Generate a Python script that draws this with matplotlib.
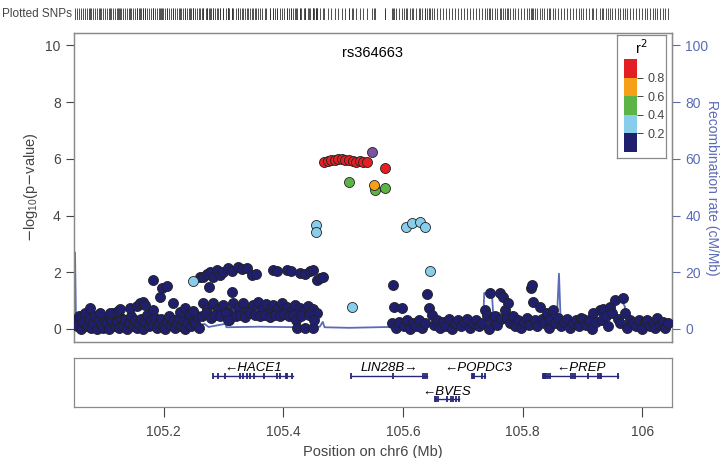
import numpy as np
import matplotlib
matplotlib.use("Agg")
import matplotlib.pyplot as plt
from matplotlib.colors import ListedColormap, BoundaryNorm
import matplotlib.colorbar as mcolorbar

plt.rcParams['font.family'] = ['Liberation Sans', 'DejaVu Sans']

# ---- association results (position Mb, -log10 p) grouped by LD r2 bin ----
ld0_left = [
    (105.052, 0.30), (105.055, 0.10), (105.058, 0.45), (105.062, 0.00), (105.065, 0.25),
    (105.068, 0.55), (105.072, 0.10), (105.075, 0.35), (105.078, 0.05), (105.082, 0.20),
    (105.085, 0.45), (105.088, 0.00), (105.092, 0.30), (105.095, 0.15), (105.098, 0.05),
    (105.102, 0.40), (105.105, 0.20), (105.109, 0.00), (105.112, 0.30), (105.115, 0.55),
    (105.119, 0.10), (105.122, 0.25), (105.125, 0.05), (105.129, 0.40), (105.132, 0.15),
    (105.135, 0.30), (105.139, 0.00), (105.142, 0.20), (105.145, 0.45), (105.149, 0.10),
    (105.152, 0.30), (105.155, 0.05), (105.159, 0.20), (105.162, 0.35), (105.165, 0.00),
    (105.169, 0.25), (105.172, 0.50), (105.175, 0.10), (105.179, 0.30), (105.182, 0.15),
    (105.185, 0.40), (105.189, 0.05), (105.192, 0.20), (105.195, 0.35), (105.199, 0.10),
    (105.202, 0.00), (105.205, 0.25), (105.209, 0.45), (105.212, 0.15), (105.216, 0.30),
    (105.219, 0.05), (105.222, 0.20), (105.226, 0.40), (105.229, 0.10), (105.232, 0.30),
    (105.236, 0.00), (105.239, 0.20), (105.242, 0.50), (105.246, 0.10), (105.249, 0.30),
    (105.252, 0.20), (105.256, 0.45), (105.259, 0.05),
    (105.077, 0.73), (105.093, 0.55), (105.110, 0.56), (105.124, 0.62), (105.127, 0.70),
    (105.144, 0.75), (105.155, 0.80), (105.160, 0.90), (105.165, 0.95), (105.169, 0.85),
    (105.182, 0.67), (105.194, 1.13), (105.197, 1.45), (105.182, 1.73), (105.206, 1.50),
    (105.216, 0.90), (105.227, 0.60), (105.236, 0.75), (105.244, 0.55), (105.249, 0.62),
]

ld0_middle = [
    (105.261, 1.82), (105.266, 1.83), (105.272, 1.95), (105.277, 2.00), (105.282, 1.85),
    (105.289, 2.08), (105.294, 1.90), (105.299, 2.00), (105.308, 2.15), (105.314, 2.05),
    (105.324, 2.18), (105.331, 2.10), (105.339, 2.15), (105.348, 1.90), (105.354, 1.95),
    (105.383, 2.08), (105.389, 2.06), (105.406, 2.08), (105.413, 2.05), (105.428, 1.97),
    (105.436, 1.95), (105.445, 2.05), (105.450, 2.08), (105.456, 1.73), (105.461, 1.80),
    (105.466, 1.83), (105.276, 1.48), (105.314, 1.30),
    (105.266, 0.92), (105.272, 0.75), (105.282, 0.92), (105.291, 0.70), (105.299, 0.85),
    (105.308, 0.60), (105.316, 0.92), (105.324, 0.75), (105.333, 0.90), (105.341, 0.65),
    (105.349, 0.85), (105.358, 0.95), (105.364, 0.70), (105.371, 0.88), (105.378, 0.60),
    (105.383, 0.85), (105.389, 0.70), (105.398, 0.90), (105.406, 0.78), (105.413, 0.60),
    (105.420, 0.85), (105.428, 0.75), (105.435, 0.62), (105.441, 0.82), (105.450, 0.70),
    (105.456, 0.58),
    (105.264, 0.45), (105.271, 0.55), (105.279, 0.40), (105.286, 0.50), (105.294, 0.45),
    (105.304, 0.55), (105.309, 0.30), (105.321, 0.45), (105.328, 0.50), (105.336, 0.42),
    (105.344, 0.55), (105.353, 0.50), (105.361, 0.45), (105.369, 0.50), (105.378, 0.42),
    (105.386, 0.50), (105.394, 0.45), (105.401, 0.52), (105.410, 0.45), (105.416, 0.50),
    (105.421, 0.32), (105.423, 0.03), (105.430, 0.45), (105.436, 0.03), (105.443, 0.50),
    (105.450, 0.03), (105.451, 0.32), (105.308, 0.32),
]

ld0_right = [
    (105.582, 0.20), (105.583, 1.55), (105.585, 0.78), (105.588, 0.05), (105.593, 0.25),
    (105.598, 0.73), (105.602, 0.10), (105.607, 0.30), (105.612, 0.00), (105.617, 0.20),
    (105.622, 0.10), (105.627, 0.30), (105.632, 0.05), (105.637, 0.20), (105.640, 1.25),
    (105.644, 0.75), (105.649, 0.50), (105.652, 0.15), (105.657, 0.30), (105.662, 0.05),
    (105.667, 0.25), (105.672, 0.10), (105.677, 0.35), (105.682, 0.00), (105.687, 0.20),
    (105.692, 0.30), (105.697, 0.10), (105.702, 0.25), (105.707, 0.35), (105.712, 0.05),
    (105.717, 0.20), (105.722, 0.30), (105.727, 0.10), (105.732, 0.20), (105.737, 0.67),
    (105.741, 0.50), (105.744, 0.00), (105.746, 1.26), (105.749, 0.30), (105.754, 0.45),
    (105.757, 0.15), (105.762, 1.26), (105.764, 0.35), (105.767, 1.13), (105.771, 0.67),
    (105.774, 0.40), (105.776, 0.90), (105.779, 0.20), (105.784, 0.45), (105.787, 0.10),
    (105.792, 0.30), (105.797, 0.05), (105.802, 0.25), (105.807, 0.40), (105.811, 0.15),
    (105.814, 1.45), (105.816, 1.55), (105.818, 0.95), (105.821, 0.30), (105.824, 0.10),
    (105.829, 0.78), (105.833, 0.35), (105.836, 0.20), (105.841, 0.56), (105.844, 0.05),
    (105.846, 0.30), (105.851, 0.67), (105.854, 0.20), (105.859, 0.40), (105.864, 0.10),
    (105.869, 0.25), (105.874, 0.35), (105.879, 0.05), (105.884, 0.20), (105.889, 0.30),
    (105.894, 0.10), (105.898, 0.40), (105.901, 0.35), (105.906, 0.15), (105.911, 0.30),
    (105.916, 0.00), (105.918, 0.56), (105.923, 0.25), (105.930, 0.67), (105.933, 0.30),
    (105.935, 0.72), (105.940, 0.45), (105.943, 0.10), (105.946, 0.78), (105.950, 0.55),
    (105.955, 1.02), (105.960, 0.35), (105.963, 0.20), (105.968, 1.08), (105.971, 0.56),
    (105.975, 0.05), (105.980, 0.30), (105.985, 0.20), (105.990, 0.10), (105.995, 0.30),
    (106.000, 0.00), (106.005, 0.25), (106.008, 0.33), (106.013, 0.10), (106.018, 0.20),
    (106.022, 0.05), (106.025, 0.38), (106.030, 0.15), (106.035, 0.25), (106.038, 0.05),
    (106.043, 0.20),
]

ld1_pos = [105.455, 105.455, 105.605, 105.615, 105.629, 105.637, 105.645, 105.515, 105.249]
ld1_logp = [3.66, 3.43, 3.60, 3.73, 3.77, 3.60, 2.03, 0.79, 1.70]

ld2_pos = [105.510, 105.553, 105.570]
ld2_logp = [5.17, 4.90, 4.98]

ld3_pos = [105.552]
ld3_logp = [5.07]

ld4_pos = [105.468, 105.474, 105.480, 105.486, 105.492, 105.498, 105.504,
           105.510, 105.516, 105.522, 105.528, 105.534, 105.540, 105.570]
ld4_logp = [5.90, 5.93, 5.97, 5.95, 6.00, 5.98, 5.95, 5.97, 5.93, 5.90, 5.92, 5.88, 5.90, 5.68]

index_pos = 105.549
index_logp = 6.23
index_name = "rs364663"

# ---- recombination rate ----
rec_pos = [105.050, 105.0517, 105.0533, 105.057, 105.077, 105.093, 105.100, 105.119,
           105.160, 105.194, 105.245, 105.252, 105.268, 105.275, 105.303, 105.305,
           105.360, 105.428, 105.461, 105.466, 105.469, 105.510, 105.577, 105.585,
           105.590, 105.595, 105.645, 105.712, 105.734, 105.736, 105.749, 105.751,
           105.762, 105.766, 105.779, 105.784, 105.789, 105.829, 105.857, 105.861,
           105.864, 105.930, 105.938, 105.950, 105.963, 105.971, 105.976, 105.997, 106.050]
rec_rate = [0.0, 27.0, 3.0, 2.0, 1.0, 1.8, 0.8, 1.2,
            0.8, 1.0, 1.5, 0.6, 1.8, 0.7, 1.8, 0.6,
            0.8, 0.6, 0.8, 2.5, 0.6, 0.4, 0.7, 1.5,
            3.0, 1.0, 1.2, 0.9, 1.2, 12.7, 12.0, 5.0,
            5.6, 2.0, 5.5, 6.0, 1.5, 1.2, 1.5, 19.5,
            1.5, 1.5, 3.0, 10.0, 11.0, 8.0, 1.5, 1.0, 0.8]

# ---- genes ----
gene_names = ["HACE1", "LIN28B", "BVES", "POPDC3", "PREP"]
gene_start = [105.283, 105.513, 105.654, 105.715, 105.834]
gene_end = [105.416, 105.640, 105.693, 105.737, 105.960]
gene_strand = ["-", "+", "-", "-", "-"]
gene_row = [0, 0, 1, 0, 0]
gene_exons = [
    [105.283, 105.291, 105.302, 105.327, 105.333, 105.340, 105.345, 105.351, 105.367,
     105.389, 105.394, 105.404, 105.407, 105.415],
    [105.513, 105.583, 105.634, 105.637, 105.640],
    [105.654, 105.656, 105.659, 105.673, 105.680, 105.684, 105.689, 105.693],
    [105.715, 105.717, 105.719, 105.732, 105.737],
    [105.834, 105.836, 105.838, 105.840, 105.843, 105.846, 105.881, 105.884, 105.888,
     105.910, 105.927, 105.930, 105.932, 105.960],
]

ld_colors = ['#1f1f6e', '#88cdea', '#5db446', '#f6a01a', '#e41f23']
index_color = '#7a52a0'
rec_color = '#5a6bb8'
spine_color = '#8a8a8a'
text_gray = '#444444'
xlim = (105.05, 106.05)

W, H = 727, 458
fig = plt.figure(figsize=(W / 100, H / 100), dpi=100)


def box(l, t, r, b):
    return [l / W, 1 - b / H, (r - l) / W, (b - t) / H]


ax = fig.add_axes(box(74, 33, 672, 342))
rax = ax.twinx()
ax.set_zorder(rax.get_zorder() + 1)
ax.patch.set_visible(False)

rax.plot(rec_pos, rec_rate, color=rec_color, lw=1.3, zorder=1)
rax.set_ylim(-4.6, 104.4)
rax.set_yticks([0, 20, 40, 60, 80, 100])
rax.tick_params(axis='y', colors=rec_color, labelsize=10, length=6, width=0.8)
rax.set_ylabel("Recombination rate (cM/Mb)", color=rec_color, fontsize=10,
               rotation=-90, labelpad=8)

dark = ld0_left + ld0_middle + ld0_right
dark_pos = [p for p, v in dark]
dark_logp = [v for p, v in dark]

mk = dict(s=52, edgecolors='#222222', linewidths=0.6)
ax.scatter(dark_pos, dark_logp, c=ld_colors[0], zorder=3, **mk)
ax.scatter(ld1_pos, ld1_logp, c=ld_colors[1], zorder=4, **mk)
ax.scatter(ld2_pos, ld2_logp, c=ld_colors[2], zorder=4, **mk)
ax.scatter(ld4_pos, ld4_logp, c=ld_colors[4], zorder=4, **mk)
ax.scatter(ld3_pos, ld3_logp, c=ld_colors[3], zorder=5, **mk)
ax.scatter([index_pos], [index_logp], c=index_color, zorder=6, **mk)
ax.text(index_pos, 9.75, index_name, ha='center', va='center', fontsize=10.5, color='black')

ax.set_xlim(*xlim)
ax.set_ylim(-0.46, 10.44)
ax.set_yticks([0, 2, 4, 6, 8, 10])
ax.set_xticks([])
ax.tick_params(axis='y', colors=text_gray, labelsize=10, length=6, width=0.8)
ax.set_ylabel(r"$-\mathregular{log_{10}}$(p$-$value)", color=text_gray, fontsize=10.5, labelpad=4)
for a in (ax, rax):
    for s in a.spines.values():
        s.set_color(spine_color)
        s.set_linewidth(0.9)
rax.spines['right'].set_color(rec_color)

# ---- legend (r2 colour key) ----
lax = fig.add_axes(box(617, 35, 666, 158))
lax.set_xticks([])
lax.set_yticks([])
for s in lax.spines.values():
    s.set_color(spine_color)
    s.set_linewidth(0.9)
lax.text(0.5, 0.9, r"r$^2$", ha='center', va='center', fontsize=10.5, transform=lax.transAxes)
cax = fig.add_axes(box(624, 59, 637, 152))
cmap = ListedColormap(ld_colors)
norm = BoundaryNorm([0, 0.2, 0.4, 0.6, 0.8, 1.0], cmap.N)
cb = mcolorbar.ColorbarBase(cax, cmap=cmap, norm=norm, orientation='vertical',
                            ticks=[0.2, 0.4, 0.6, 0.8])
cb.outline.set_visible(False)
cb.ax.minorticks_off()
cb.ax.tick_params(labelsize=9, length=4, width=0.7, colors=text_gray)

# ---- plotted SNPs strip ----
sax = fig.add_axes(box(74, 8, 672, 20))
all_pos = dark_pos + ld1_pos + ld2_pos + ld3_pos + ld4_pos + [index_pos]
sax.vlines(all_pos, 0, 1, color='#333333', lw=0.6)
sax.set_xlim(*xlim)
sax.set_ylim(0, 1)
sax.axis('off')
fig.text(2 / W, 1 - 14 / H, "Plotted SNPs", ha='left', va='center', fontsize=8.5, color=text_gray)

# ---- gene track ----
gax = fig.add_axes(box(74, 358, 672, 407))
gene_col = '#27277a'
row_line = [0.633, 0.163]
row_label = [0.80, 0.31]
for name, st, en, strand, row, exons in zip(gene_names, gene_start, gene_end,
                                            gene_strand, gene_row, gene_exons):
    y = row_line[row]
    gax.plot([st, en], [y, y], color=gene_col, lw=1.0)
    gax.vlines(exons, y - 0.06, y + 0.06, color=gene_col, lw=1.3)
    if strand == '-':
        label = "\u2190" + name
    else:
        label = name + "\u2192"
    gax.text((st + en) / 2, row_label[row], label, ha='center', va='center',
             fontsize=9.5, style='italic', color='black')
gax.set_xlim(*xlim)
gax.set_ylim(0, 1)
gax.set_yticks([])
gax.set_xticks([105.2, 105.4, 105.6, 105.8, 106.0])
gax.set_xticklabels(["105.2", "105.4", "105.6", "105.8", "106"])
gax.tick_params(axis='x', colors=text_gray, labelsize=10, length=7, width=0.8, pad=6)
gax.set_xlabel("Position on chr6 (Mb)", color=text_gray, fontsize=10.5, labelpad=4)
for s in gax.spines.values():
    s.set_color(spine_color)
    s.set_linewidth(0.9)

fig.savefig("out.png", dpi=100)
